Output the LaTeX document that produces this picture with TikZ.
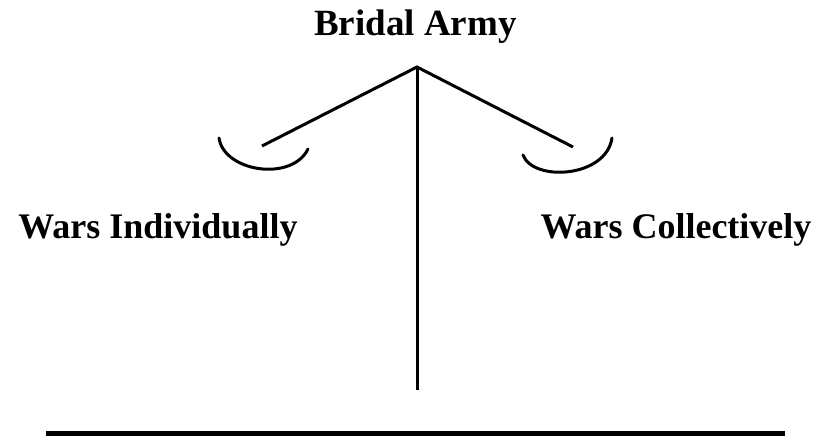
\documentclass[tikz,border=0pt]{standalone}
\usepackage{fontspec}
\setmainfont{Liberation Serif}
\begin{document}
\begin{tikzpicture}[x=1pt,y=-1pt,
    label/.style={font=\fontsize{36}{40}\selectfont\bfseries, inner sep=0pt, anchor=base},
    beam/.style={line width=3pt},
    pan/.style={line width=3pt, line cap=round}]

\useasboundingbox (0,0) rectangle (820,436);

\begin{scope}[shift={(0,0)}]
        \coordinate (A) at (417,67);
        \coordinate (B) at (262,146);
        \coordinate (C) at (573,147);
        \coordinate (D) at (417,390);
        \coordinate (E) at (46,433);
        \coordinate (F) at (785,433);

        % Texte
        \node[label, font=\fontsize{37}{40}\selectfont\bfseries] (army) at (415.5,36) {Bridal Army};
        \node[label] (indiv) at (158,238) {Wars Individually};
        \node[label] (coll) at (676,238) {Wars Collectively};

        % Waage
        \draw[beam] (B) -- (A) -- (C);
        \draw[beam] (A) -- (D);
        \draw[pan] (219,138) .. controls (224,172) and (292,182) .. (308,149);
        \draw[pan] (523,155) .. controls (533,182) and (606,178) .. (612,138);
        \draw[line width=5pt] (E) -- (F);
\end{scope}

\end{tikzpicture}
\end{document}
